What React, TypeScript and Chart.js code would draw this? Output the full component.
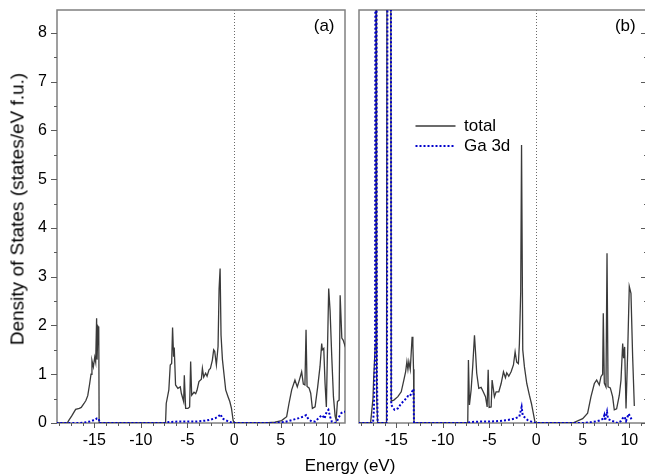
import React, { useEffect, useRef } from 'react';
import { Chart, registerables } from 'chart.js';

Chart.register(...registerables);

const FONT = '"Liberation Sans", Arial, Helvetica, sans-serif';

// Axis limits and tick label steps
const X_MIN = -19;
const X_MAX = 11.9;
const Y_MIN = 0;
const Y_MAX = 8.47;
const X_LABEL_STEP = 5;
const Y_LABEL_STEP = 1;
const X_MINOR_STEP = 1.25;
const Y_MINOR_STEP = 0.5;

const SERIES_NAMES = ['total', 'Ga 3d'];
const PANEL_LABELS = ['(a)', '(b)'];
const X_TITLE = 'Energy (eV)';
const Y_TITLE = 'Density of States (states/eV f.u.)';

// [energy (eV), DOS] — panel (a), total
const totalA: [number, number][] = [
  [-19.5, 0], [-17.9, 0], [-17.75, 0.05], [-17.4, 0.15], [-17.0, 0.28], [-16.6, 0.3], [-16.4, 0.32],
  [-16.1, 0.4], [-15.9, 0.46], [-15.7, 0.56], [-15.5, 0.8], [-15.35, 1.0], [-15.25, 1.28], [-15.1, 1.15],
  [-14.95, 1.35], [-14.85, 1.25], [-14.75, 2.15], [-14.7, 1.3], [-14.6, 1.98], [-14.52, 1.95], [-14.48, 0],
  [-7.4, 0], [-7.35, 0.02], [-7.28, 0.4], [-7.0, 0.68], [-6.85, 1.19], [-6.7, 1.22], [-6.6, 1.96],
  [-6.49, 1.36], [-6.42, 1.55], [-6.28, 0.78], [-6.03, 0.71], [-5.77, 0.74], [-5.66, 0.61], [-5.41, 0.44],
  [-5.34, 0.98], [-5.2, 0.3], [-4.95, 0.3], [-4.77, 0.33], [-4.66, 1.26], [-4.55, 0.57], [-4.3, 0.63],
  [-4.12, 0.6], [-3.98, 0.67], [-3.77, 0.85], [-3.51, 0.9], [-3.4, 1.12], [-3.26, 0.94], [-3.05, 1.02],
  [-2.9, 0.96], [-2.69, 1.09], [-2.54, 1.12], [-2.33, 1.29], [-2.19, 1.5], [-2.08, 1.47], [-1.9, 1.19],
  [-1.72, 1.57], [-1.61, 2.75], [-1.5, 3.17], [-1.4, 1.8], [-1.25, 1.3], [-1.07, 0.98], [-0.9, 0.68],
  [-0.65, 0.54], [-0.46, 0.44], [-0.28, 0.3], [-0.1, 0.05], [0.0, 0],
  [3.3, 0], [4.38, 0.02], [5.1, 0.05], [5.64, 0.13], [5.89, 0.4], [6.18, 0.68], [6.53, 0.88], [6.78, 0.74],
  [7.0, 0.88], [7.25, 1.05], [7.43, 0.8], [7.6, 0.78], [7.72, 1.91], [7.83, 0.75], [8.04, 0.72], [8.22, 0.61],
  [8.4, 0.3], [8.69, 0.33], [8.97, 0.74], [9.22, 1.16], [9.4, 1.63], [9.47, 1.5], [9.62, 1.53], [9.76, 0.81],
  [9.9, 0.33], [10.15, 2.76], [10.3, 2.3], [10.48, 1.36], [10.66, 0.54], [10.84, 0.14], [10.95, 0.06],
  [11.09, 0.44], [11.27, 0.47], [11.38, 2.62], [11.56, 1.74], [11.7, 1.7], [11.95, 1.55],
];

// panel (a), Ga 3d
const gaA: [number, number][] = [
  [-19.5, 0], [-16.5, 0], [-16.0, 0.01], [-15.5, 0.03], [-15.2, 0.05], [-14.9, 0.06], [-14.75, 0.09],
  [-14.5, 0.09], [-14.45, 0],
  [-7.4, 0], [-7.0, 0.02], [-6.0, 0.03], [-5.0, 0.03], [-4.0, 0.03], [-3.0, 0.05], [-2.5, 0.07], [-2.0, 0.1],
  [-1.7, 0.13], [-1.45, 0.18], [-1.25, 0.09], [-0.9, 0.06], [-0.6, 0.03], [-0.3, 0.01], [0.0, 0],
  [4.5, 0], [5.4, 0.02], [6.2, 0.06], [6.95, 0.1], [7.43, 0.13], [7.72, 0.16], [7.97, 0.08], [8.33, 0.03],
  [8.7, 0.03], [9.22, 0.13], [9.47, 0.16], [9.7, 0.09], [9.93, 0.23], [10.12, 0.27], [10.3, 0.13],
  [10.48, 0.03], [10.84, 0], [11.0, 0.02], [11.27, 0.13], [11.49, 0.2], [11.7, 0.23], [11.95, 0.23],
];

// panel (b), total
const totalB: [number, number][] = [
  [-19.5, 0], [-17.76, 0], [-17.5, 0.5], [-17.42, 0.95], [-17.25, 1.6], [-17.18, 25], [-17.1, 0.5], [-17.0, 0],
  [-16.05, 0], [-15.97, 15], [-15.75, 16], [-15.6, 12], [-15.54, 0.45], [-15.26, 0.47], [-14.83, 0.54],
  [-14.47, 0.64], [-14.19, 0.88], [-14.0, 1.05], [-13.86, 1.26], [-13.75, 1.1], [-13.65, 1.26], [-13.5, 1.1],
  [-13.4, 1.43], [-13.3, 1.77], [-13.22, 1.62], [-13.15, 1.1], [-13.1, 0],
  [-7.4, 0], [-7.33, 0.02], [-7.26, 1.29], [-7.15, 0.37], [-6.97, 0.68], [-6.79, 1.19], [-6.61, 1.8],
  [-6.5, 1.46], [-6.37, 1.02], [-6.15, 0.71], [-5.9, 0.73], [-5.72, 0.66], [-5.43, 0.54], [-5.25, 0.33],
  [-5.14, 1.09], [-5.04, 0.32], [-4.82, 0.33], [-4.72, 0.88], [-4.47, 0.54], [-4.29, 0.64], [-4.0, 0.64],
  [-3.75, 0.81], [-3.5, 1.05], [-3.29, 0.93], [-3.15, 1.03], [-2.93, 0.96], [-2.68, 1.05], [-2.43, 1.19],
  [-2.25, 1.46], [-2.08, 1.25], [-1.9, 1.22], [-1.79, 1.63], [-1.65, 2.69], [-1.56, 5.7], [-1.43, 1.5],
  [-1.25, 1.15], [-1.0, 0.81], [-0.72, 0.57], [-0.5, 0.4], [-0.29, 0.19], [-0.1, 0], [0, 0],
  [3.93, 0], [5.0, 0.09], [5.53, 0.2], [5.89, 0.54], [6.25, 0.81], [6.5, 0.88], [6.78, 0.78], [6.96, 0.95],
  [7.14, 1.0], [7.21, 2.25], [7.32, 0.82], [7.5, 0.74], [7.61, 3.48], [7.72, 0.74], [7.96, 0.72], [8.21, 0.54],
  [8.39, 0.27], [8.64, 0.29], [8.93, 0.57], [9.11, 0.88], [9.29, 1.63], [9.39, 1.33], [9.5, 1.56], [9.65, 0.3],
  [9.82, 1.4], [10.0, 2.8], [10.18, 2.66], [10.36, 1.36], [10.54, 0.35],
];

// panel (b), Ga 3d
const gaB: [number, number][] = [
  [-19.5, 0], [-17.5, 0], [-17.4, 0.27], [-17.28, 1.4], [-17.18, 22], [-17.08, 1.0], [-17.0, 0],
  [-16.0, 0], [-15.92, 14], [-15.7, 16], [-15.58, 11], [-15.54, 0.37], [-15.19, 0.27], [-14.83, 0.3],
  [-14.47, 0.4], [-14.1, 0.47], [-13.76, 0.55], [-13.58, 0.54], [-13.4, 0.6], [-13.22, 0.68], [-13.15, 0.7],
  [-13.1, 0],
  [-7.4, 0], [-7.0, 0.02], [-6.0, 0.03], [-5.0, 0.03], [-4.0, 0.04], [-3.1, 0.06], [-2.3, 0.09], [-1.8, 0.13],
  [-1.55, 0.33], [-1.43, 0.15], [-0.9, 0.06], [-0.4, 0.02], [0, 0],
  [5.0, 0], [6.1, 0.02], [6.8, 0.05], [7.2, 0.09], [7.32, 0.16], [7.4, 0.05], [7.61, 0.23], [7.72, 0.08],
  [8.2, 0.04], [8.75, 0], [9.1, 0.04], [9.3, 0.1], [9.5, 0.13], [9.65, 0.04], [9.93, 0.19], [10.05, 0.15],
  [10.3, 0.05],
];

const toPoints = (arr: [number, number][]) => arr.map(([x, y]) => ({ x, y }));

const COLOR_TOTAL = '#3a3a3a';
const COLOR_GA = '#0000cc';

// Frame, Fermi-level dotted line and minor/major tick marks, all through the chart's scales
const frameTicks = {
  id: 'frameTicks',
  beforeDatasetsDraw(chart: any, _args: any, opts: any) {
    const { ctx, chartArea: a, scales } = chart;
    const xs = scales.x;
    const ys = scales.y;
    ctx.save();
    // E = 0 dotted line
    const x0 = Math.round(xs.getPixelForValue(0)) + 0.5;
    ctx.strokeStyle = '#6a6a6a';
    ctx.lineWidth = 1;
    ctx.setLineDash([1, 2]);
    ctx.beginPath();
    ctx.moveTo(x0, a.top);
    ctx.lineTo(x0, a.bottom);
    ctx.stroke();
    ctx.setLineDash([]);
    // frame
    ctx.strokeStyle = '#808080';
    ctx.lineWidth = 1.5;
    ctx.strokeRect(a.left, a.top, a.right - a.left, a.bottom - a.top);
    // x ticks (outward, bottom)
    ctx.strokeStyle = '#5a5a5a';
    ctx.lineWidth = 1;
    const ratioX = Math.round(X_LABEL_STEP / X_MINOR_STEP);
    for (let k = Math.ceil(xs.min / X_MINOR_STEP); k * X_MINOR_STEP <= xs.max + 1e-9; k++) {
      const major = k % ratioX === 0;
      const px = Math.round(xs.getPixelForValue(k * X_MINOR_STEP)) + 0.5;
      ctx.beginPath();
      ctx.moveTo(px, a.bottom);
      ctx.lineTo(px, a.bottom + (major ? 5 : 3));
      ctx.stroke();
    }
    // y ticks
    const ratioY = Math.round(Y_LABEL_STEP / Y_MINOR_STEP);
    for (let k = Math.ceil(ys.min / Y_MINOR_STEP); k * Y_MINOR_STEP <= ys.max + 1e-9; k++) {
      const major = k % ratioY === 0;
      const py = Math.round(ys.getPixelForValue(k * Y_MINOR_STEP)) + 0.5;
      const len = major ? 6 : 3;
      ctx.beginPath();
      if (opts.ySide === 'left') {
        ctx.moveTo(a.left, py);
        ctx.lineTo(a.left - len, py);
      } else {
        ctx.moveTo(a.right, py);
        ctx.lineTo(a.right - len, py);
      }
      ctx.stroke();
    }
    ctx.restore();
  },
};

// Places the legend inside panel (b)
const legendPlace = {
  id: 'legendPlace',
  afterLayout(chart: any) {
    const lg = chart.legend;
    if (!lg) return;
    const a = chart.chartArea;
    lg.left = a.left + 53.5;
    lg.top = a.top + 104.5;
    lg.width = 170;
    lg.height = 80;
    lg.right = lg.left + lg.width;
    lg.bottom = lg.top + lg.height;
  },
};

function makeConfig(total: [number, number][], ga: [number, number][], isA: boolean): any {
  return {
    type: 'line',
    data: {
      datasets: [
        {
          label: SERIES_NAMES[1],
          data: toPoints(ga),
          borderColor: COLOR_GA,
          backgroundColor: COLOR_GA,
          borderWidth: 2,
          borderDash: [2, 2],
          pointRadius: 0,
          fill: false,
          tension: 0,
          order: 0,
        },
        {
          label: SERIES_NAMES[0],
          data: toPoints(total),
          borderColor: COLOR_TOTAL,
          backgroundColor: COLOR_TOTAL,
          borderWidth: 1.3,
          pointRadius: 0,
          fill: false,
          tension: 0,
          order: 1,
        },
      ],
    },
    options: {
      responsive: false,
      animation: false,
      devicePixelRatio: 1,
      events: [],
      layout: {
        padding: isA
          ? { left: 0, right: 7, top: 10, bottom: 0 }
          : { left: 7, right: 2, top: 10, bottom: 0 },
      },
      scales: {
        x: {
          type: 'linear',
          min: X_MIN,
          max: X_MAX,
          grid: { display: false, drawTicks: true, tickLength: 8 },
          border: { display: false },
          ticks: {
            stepSize: X_LABEL_STEP,
            includeBounds: false,
            padding: 0,
            maxRotation: 0,
            autoSkip: false,
            color: '#000',
            font: { family: FONT, size: 16 },
            callback: (v: number) => String(v),
          },
          afterFit: (s: any) => {
            s.height = 51;
          },
        },
        y: {
          type: 'linear',
          display: isA,
          min: Y_MIN,
          max: Y_MAX,
          grid: { display: false, drawTicks: true, tickLength: 10 },
          border: { display: false },
          ticks: {
            stepSize: Y_LABEL_STEP,
            includeBounds: false,
            padding: 0,
            color: '#000',
            font: { family: FONT, size: 16 },
            callback: (v: number) => String(v),
          },
          afterFit: (s: any) => {
            s.width = isA ? 57 : 0;
          },
        },
      },
      plugins: {
        tooltip: { enabled: false },
        frameTicks: { ySide: isA ? 'left' : 'right' },
        legend: isA
          ? { display: false }
          : {
              display: true,
              position: 'chartArea',
              align: 'start',
              labels: {
                usePointStyle: true,
                pointStyleWidth: 40,
                padding: 3,
                color: '#000',
                font: { family: FONT, size: 17 },
                generateLabels: () => [
                  {
                    text: SERIES_NAMES[0],
                    fillStyle: COLOR_TOTAL,
                    strokeStyle: COLOR_TOTAL,
                    lineWidth: 1.5,
                    lineDash: [],
                    pointStyle: 'line',
                    hidden: false,
                    datasetIndex: 1,
                    fontColor: '#000',
                  },
                  {
                    text: SERIES_NAMES[1],
                    fillStyle: COLOR_GA,
                    strokeStyle: COLOR_GA,
                    lineWidth: 2,
                    lineDash: [2, 2],
                    pointStyle: 'line',
                    hidden: false,
                    datasetIndex: 0,
                    fontColor: '#000',
                  },
                ],
              },
            },
      },
    },
    plugins: isA ? [frameTicks] : [frameTicks, legendPlace],
  };
}

export default function App() {
  const refA = useRef<HTMLCanvasElement | null>(null);
  const refB = useRef<HTMLCanvasElement | null>(null);

  useEffect(() => {
    if (!refA.current || !refB.current) return;
    const a = new Chart(refA.current, makeConfig(totalA, gaA, true));
    const b = new Chart(refB.current, makeConfig(totalB, gaB, false));
    return () => {
      a.destroy();
      b.destroy();
    };
  }, []);

  const textBase: React.CSSProperties = {
    position: 'absolute',
    fontFamily: FONT,
    color: '#000',
    whiteSpace: 'nowrap',
  };

  return (
    <div
      style={{
        position: 'fixed',
        left: 0,
        top: 0,
        width: 645,
        height: 474,
        overflow: 'hidden',
        background: '#fff',
      }}
    >
      <canvas ref={refA} width={352} height={474} style={{ position: 'absolute', left: 0, top: 0, width: 352, height: 474 }} />
      <canvas ref={refB} width={297} height={474} style={{ position: 'absolute', left: 352, top: 0, width: 297, height: 474 }} />
      <div
        style={{
          ...textBase,
          left: 16.7,
          top: 208.5,
          fontSize: 19,
          lineHeight: '19px',
          transform: 'translate(-50%, -50%) rotate(-90deg)',
        }}
      >
        {Y_TITLE}
      </div>
      <div style={{ ...textBase, left: 350, top: 457.3, fontSize: 17, lineHeight: '17px', transform: 'translateX(-50%)' }}>
        {X_TITLE}
      </div>
      <div style={{ ...textBase, left: 334.5, top: 17, fontSize: 17, lineHeight: '17px', transform: 'translateX(-100%)' }}>
        {PANEL_LABELS[0]}
      </div>
      <div style={{ ...textBase, left: 635.7, top: 17, fontSize: 17, lineHeight: '17px', transform: 'translateX(-100%)' }}>
        {PANEL_LABELS[1]}
      </div>
    </div>
  );
}
